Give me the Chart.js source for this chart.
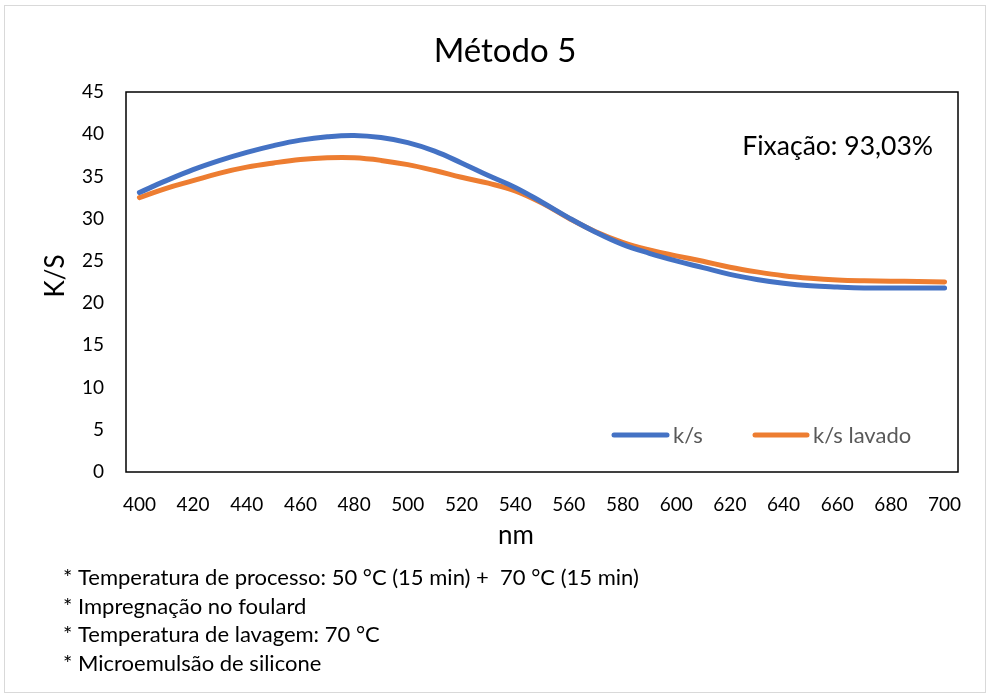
<!DOCTYPE html>
<html>
<head>
<meta charset="utf-8">
<script src="https://cdn.jsdelivr.net/npm/chart.js@4/dist/chart.umd.min.js"></script>
<style>
  html, body { margin: 0; padding: 0; background: #fff; }
  #wrap { width: 990px; height: 698px; position: relative; }
</style>
</head>
<body>
<div id="wrap"><canvas id="c" width="990" height="698"></canvas></div>
<script>
// Wavelengths (nm), measured every 10 nm
const wavelengths = [400,410,420,430,440,450,460,470,480,490,500,510,520,530,540,550,
                     560,570,580,590,600,610,620,630,640,650,660,670,680,690,700];
// Colour strength K/S before washing
const ksValues = [33.1,34.5,35.8,36.9,37.85,38.65,39.3,39.7,39.85,39.6,39.0,38.0,36.6,35.1,33.7,31.95,
                  30.1,28.4,26.95,25.9,25.0,24.2,23.4,22.8,22.35,22.05,21.9,21.8,21.8,21.8,21.8];
// Colour strength K/S after washing
const ksWashedValues = [32.5,33.6,34.5,35.4,36.1,36.6,37.0,37.2,37.2,36.9,36.4,35.7,34.9,34.2,33.3,31.85,
                        30.05,28.45,27.2,26.3,25.6,24.95,24.25,23.7,23.25,22.95,22.75,22.65,22.6,22.55,22.5];
const seriesNames = ['k/s', 'k/s lavado'];
const yTicks = [0, 5, 10, 15, 20, 25, 30, 35, 40, 45];
const chartTitle = 'Método 5';
const xTitle = 'nm';
const yTitle = 'K/S';
const fixationNote = 'Fixação: 93,03%';
const footnotes = [
  '* Temperatura de processo: 50 °C (15 min) +  70 °C (15 min)',
  '* Impregnação no foulard',
  '* Temperatura de lavagem: 70 °C',
  '* Microemulsão de silicone'
];

const FONT = 'Lato, "Open Sans", sans-serif';
const BLUE = '#4472C4';
const ORANGE = '#ED7D31';

// Frame, plot box, axis titles, note, legend and footnotes
const decorations = {
  id: 'decorations',
  beforeDraw(chart) {
    const ctx = chart.ctx;
    ctx.save();
    ctx.strokeStyle = '#d9d9d9';
    ctx.lineWidth = 1;
    ctx.strokeRect(4.5, 5.5, 981, 687);
    ctx.restore();
  },
  beforeDatasetsDraw(chart) {
    const { ctx, chartArea: a } = chart;
    ctx.save();
    ctx.strokeStyle = '#000';
    ctx.lineWidth = 1.5;
    ctx.strokeRect(a.left, a.top, a.right - a.left, a.bottom - a.top);
    ctx.restore();
  },
  afterDraw(chart) {
    const { ctx } = chart;
    ctx.save();
    ctx.fillStyle = '#000';
    ctx.textBaseline = 'middle';

    // axis titles
    ctx.font = '26px ' + FONT;
    ctx.textAlign = 'center';
    ctx.fillText(xTitle, 516, 536);
    ctx.save();
    ctx.translate(56, 276);
    ctx.rotate(-Math.PI / 2);
    ctx.fillText(yTitle, 0, 0);
    ctx.restore();

    // fixation note
    ctx.font = '26.5px ' + FONT;
    ctx.textAlign = 'right';
    ctx.fillText(fixationNote, 933, 146);

    // legend
    const ds = chart.data.datasets;
    const items = [
      { x0: 614, x1: 667, tx: 673 },
      { x0: 755, x1: 807, tx: 813 }
    ];
    ctx.font = '22px ' + FONT;
    ctx.textAlign = 'left';
    items.forEach((it, i) => {
      ctx.strokeStyle = ds[i].borderColor;
      ctx.lineWidth = 5;
      ctx.lineCap = 'round';
      ctx.beginPath();
      ctx.moveTo(it.x0, 435);
      ctx.lineTo(it.x1, 435);
      ctx.stroke();
      ctx.fillStyle = '#595959';
      ctx.fillText(ds[i].label, it.tx, 436);
    });

    // footnotes
    ctx.fillStyle = '#000';
    ctx.font = '22px ' + FONT;
    footnotes.forEach((t, i) => ctx.fillText(t, 63, 578 + i * 28.5));
    ctx.restore();
  }
};

new Chart(document.getElementById('c'), {
  type: 'line',
  data: {
    labels: wavelengths,
    datasets: [
      { label: seriesNames[0], data: ksValues, borderColor: BLUE, backgroundColor: BLUE,
        borderWidth: 5, pointRadius: 0, tension: 0.4, borderCapStyle: 'round', borderJoinStyle: 'round' },
      { label: seriesNames[1], data: ksWashedValues, borderColor: ORANGE, backgroundColor: ORANGE,
        borderWidth: 5, pointRadius: 0, tension: 0.4, borderCapStyle: 'round', borderJoinStyle: 'round' }
    ]
  },
  options: {
    responsive: false,
    animation: false,
    layout: { padding: { left: 52, right: 32, top: 0, bottom: 0 } },
    plugins: {
      legend: { display: false },
      tooltip: { enabled: false },
      title: {
        display: true,
        text: chartTitle,
        color: '#000',
        font: { family: FONT, size: 33, weight: 'normal' },
        padding: { top: 31.2, bottom: 21.2 }
      }
    },
    scales: {
      x: {
        type: 'category',
        offset: true,
        grid: { display: false, drawTicks: false },
        border: { display: false },
        ticks: {
          autoSkip: false,
          maxRotation: 0,
          padding: 21,
          color: '#000',
          font: { family: FONT, size: 19 },
          callback: function (v, i) {
            const w = wavelengths[i];
            return w % 20 === 0 ? String(w) : '';
          }
        },
        afterFit: s => { s.height = 226; }
      },
      y: {
        min: 0,
        max: 45,
        afterBuildTicks: s => { s.ticks = yTicks.map(v => ({ value: v })); },
        grid: { display: false, drawTicks: false },
        border: { display: false },
        ticks: {
          padding: 22,
          color: '#000',
          font: { family: FONT, size: 19 }
        },
        afterFit: s => { s.width = 74; }
      }
    }
  },
  plugins: [decorations]
});
</script>
</body>
</html>
